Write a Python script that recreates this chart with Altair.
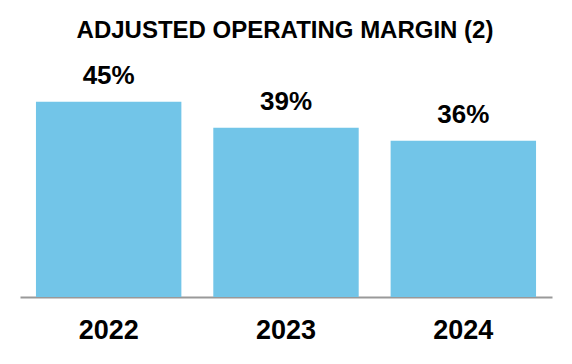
import altair as alt
import pandas as pd

years = ["2022", "2023", "2024"]
margins = [45, 39, 36]
labels = ["45%", "39%", "36%"]
title_text = "ADJUSTED OPERATING MARGIN (2)"

df = pd.DataFrame({"year": years, "margin": margins, "label": labels})
tdf = pd.DataFrame({"t": [title_text]})

FONT = "Liberation Sans"

x = alt.X(
    "year:N",
    sort=years,
    title=None,
    scale=alt.Scale(paddingInner=0.18, paddingOuter=0.09),
    axis=alt.Axis(
        labelFontSize=27,
        labelFontWeight="bold",
        labelFont=FONT,
        labelColor="#000000",
        labelAngle=0,
        labelBaseline="alphabetic",
        labelPadding=41,
        ticks=False,
        domainColor="#999999",
        domainWidth=2,
        grid=False,
    ),
)
y = alt.Y("margin:Q", scale=alt.Scale(domain=[0, 50]), axis=None)

bars = alt.Chart(df).mark_bar(color="#72C5E8").encode(x=x, y=y)
text = alt.Chart(df).mark_text(
    dy=-18, baseline="alphabetic", fontSize=26, fontWeight="bold", font=FONT, color="#000000"
).encode(x=x, y=y, text="label:N")
title = alt.Chart(tdf).mark_text(
    baseline="alphabetic", align="center", fontSize=24, fontWeight="bold", font=FONT, color="#000000"
).encode(x=alt.value(265), y=alt.value(-42), text="t:N")

chart = (
    alt.layer(bars, text, title)
    .properties(
        width=532,
        height=217,
        autosize=alt.AutoSizeParams(type="none"),
        padding={"left": 12, "top": 72, "right": 12, "bottom": 59},
    )
    .configure_view(stroke=None)
)

chart.save("out.html", embed_options={"renderer": "svg", "actions": False})
